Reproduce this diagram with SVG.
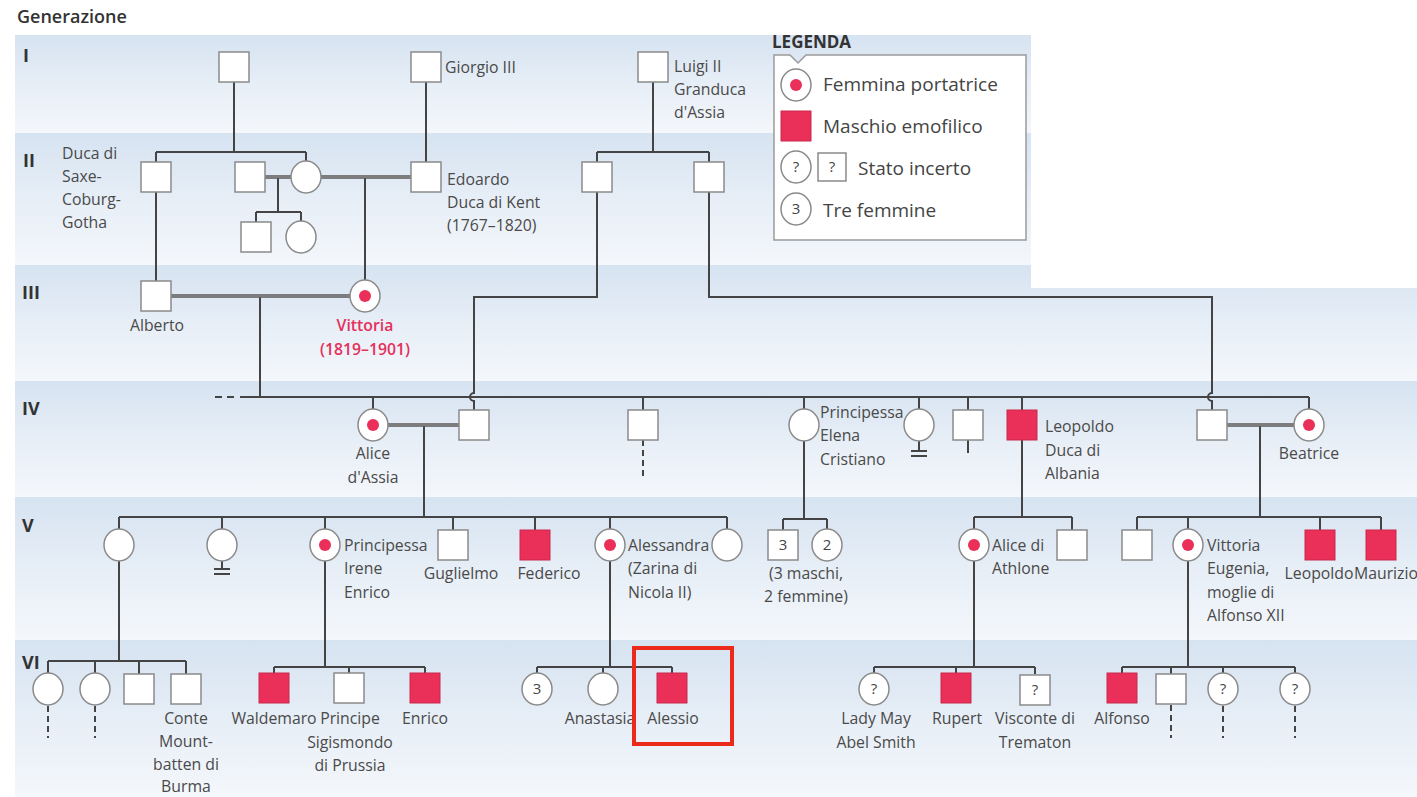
<svg xmlns="http://www.w3.org/2000/svg" xmlns:xlink="http://www.w3.org/1999/xlink" width="1417" height="797" viewBox="0 0 1417 797">
  <style>
    .lb { font-family: "Open Sans", "Liberation Sans", sans-serif; font-size: 15.8px; fill: #4a4a4a; }
    .mid { text-anchor: middle; }
    .red { fill: #e6305c; font-weight: 600; }
    .gen { font-family: "Open Sans", "Liberation Sans", sans-serif; font-size: 18px; font-weight: 700; fill: #333; }
    .lg { font-family: "Open Sans", "Liberation Sans", sans-serif; font-size: 19px; fill: #444; }
    .sym { font-family: "Open Sans", "Liberation Sans", sans-serif; font-size: 15px; fill: #444; text-anchor: middle; }
    .ln { fill: none; stroke: #444; stroke-width: 2; }
    .dash { fill: none; stroke: #444; stroke-width: 2; stroke-dasharray: 6 4; }
    .mar { fill: none; stroke: #5a5a5a; stroke-width: 3.6; }
    .mar-in { fill: none; stroke: #a0a0a0; stroke-width: 1; }
    .m { fill: #fff; stroke: #8a8a8a; stroke-width: 1.5; }
    .aff { fill: #ea2f58; stroke: #c92a4c; stroke-width: 1; }
    .dot { fill: #ea2f58; }
  </style>
  <defs>
    <linearGradient id="band" x1="0" y1="0" x2="0" y2="1">
      <stop offset="0" stop-color="#d6e3f1"/>
      <stop offset="0.45" stop-color="#e5edf6"/>
      <stop offset="1" stop-color="#f4f7fb"/>
    </linearGradient>
    <rect id="sq" x="-15" y="-15" width="30" height="30"/>
    <ellipse id="ci" cx="0" cy="0" rx="15" ry="16"/>
  </defs>

  <rect width="1417" height="797" fill="#fff"/>

  <!-- generation bands -->
  <g id="bands">
    <rect x="15" y="35" width="1016" height="98" fill="url(#band)"/>
    <rect x="15" y="133" width="1016" height="132" fill="url(#band)"/>
    <rect x="15" y="265" width="1402" height="116" fill="url(#band)"/>
    <rect x="1031" y="0" width="386" height="288" fill="#fff"/>
    <rect x="15" y="381" width="1402" height="116" fill="url(#band)"/>
    <rect x="15" y="497" width="1402" height="143" fill="url(#band)"/>
    <rect x="15" y="640" width="1402" height="157" fill="url(#band)"/>
  </g>

  <text class="gen" x="17" y="23" style="font-weight:600">Generazione</text>
  <g id="gen-numbers">
    <text class="gen" x="23" y="62">I</text>
    <text class="gen" x="23" y="167">II</text>
    <text class="gen" x="22" y="299">III</text>
    <text class="gen" x="22" y="415">IV</text>
    <text class="gen" x="22" y="532">V</text>
    <text class="gen" x="22" y="669">VI</text>
  </g>

  <!-- connectors -->
  <g id="connectors">
    <path class="ln" d="M234,82 V152 M156,152 H306 M156,152 V162 M306,152 V161"/>
    <path class="ln" d="M426,82 V162"/>
    <path class="ln" d="M653,82 V152 M597,152 H709 M597,152 V162 M709,152 V162"/>
    <path class="ln" d="M278,177 V212 M256,212 H301 M256,212 V222 M301,212 V221"/>
    <path class="ln" d="M365,177 V280"/>
    <path class="ln" d="M156,192 V281"/>
    <path class="ln" d="M597,192 V297 H474 V393 a4,4 0 0 0 0,8 V410"/>
    <path class="ln" d="M709,192 V297 H1212 V393 a4,4 0 0 0 0,8 V410"/>
    <path class="ln" d="M260,296 V397"/>
    <path class="ln" d="M215,397 H222 M227,397 H234 M240,397 H1309"/>
    <path class="ln" d="M373,397 V409 M643,397 V410 M804,397 V409 M919,397 V409 M968,397 V410 M1022,397 V410 M1309,397 V409"/>
    <path class="dash" d="M643,440 V478"/>
    <path class="ln" d="M919,441 V451 M911,451 H927 M911,456 H927"/>
    <path class="ln" d="M968,440 V453"/>
    <path class="ln" d="M424,425 V517 M119,517 H727 M119,517 V529 M222,517 V529 M325,517 V529 M453,517 V530 M535,517 V530 M610,517 V529 M727,517 V529"/>
    <path class="ln" d="M804,441 V519 M783,519 H827 M783,519 V530 M827,519 V529"/>
    <path class="ln" d="M1022,440 V517 M974,517 H1072 M974,517 V529 M1072,517 V530"/>
    <path class="ln" d="M1260,425 V517 M1137,517 H1381 M1137,517 V530 M1188,517 V529 M1320,517 V530 M1381,517 V530"/>
    <path class="ln" d="M222,561 V569 M214,569 H230 M214,574 H230"/>
    <path class="ln" d="M119,561 V661 M48,661 H186 M48,661 V673 M95,661 V673 M139,661 V674 M186,661 V674"/>
    <path class="ln" d="M325,561 V667 M274,667 H425 M274,667 V674 M349,667 V674 M425,667 V674"/>
    <path class="ln" d="M610,561 V667 M537,667 H672 M537,667 V673 M603,667 V673 M672,667 V674"/>
    <path class="ln" d="M974,561 V667 M874,667 H1035 M874,667 V673 M956,667 V674 M1035,667 V674"/>
    <path class="ln" d="M1188,561 V667 M1122,667 H1295 M1122,667 V674 M1171,667 V674 M1223,667 V673 M1295,667 V673"/>
    <path class="dash" d="M48,706 V738 M95,706 V738 M1171,705 V738 M1223,706 V738 M1295,706 V738"/>
    <!-- marriage lines -->
    <path class="mar" d="M265,177 H291 M321,177 H411 M171,296 H350 M388,425 H459 M1227,425 H1294"/>
    <path class="mar-in" d="M265,177 H291 M321,177 H411 M171,296 H350 M388,425 H459 M1227,425 H1294"/>
  </g>

  <!-- generation I -->
  <g id="g1-a"><use href="#sq" class="m" x="234" y="67"/></g>
  <g id="giorgio"><use href="#sq" class="m" x="426" y="67"/><text class="lb" x="445" y="73">Giorgio III</text></g>
  <g id="luigi"><use href="#sq" class="m" x="653" y="67"/>
    <text class="lb" x="674" y="72">Luigi II</text><text class="lb" x="674" y="95">Granduca</text><text class="lb" x="674" y="118">d'Assia</text></g>

  <!-- generation II -->
  <g id="duca-saxe"><use href="#sq" class="m" x="156" y="177"/>
    <text class="lb" x="62" y="159">Duca di</text><text class="lb" x="62" y="182">Saxe-</text><text class="lb" x="62" y="205">Coburg-</text><text class="lb" x="62" y="228">Gotha</text></g>
  <g id="g2-b"><use href="#sq" class="m" x="250" y="177"/></g>
  <g id="g2-c"><use href="#ci" class="m" x="306" y="177"/></g>
  <g id="g2-d"><use href="#sq" class="m" x="256" y="237"/></g>
  <g id="g2-e"><use href="#ci" class="m" x="301" y="237"/></g>
  <g id="edoardo"><use href="#sq" class="m" x="426" y="177"/>
    <text class="lb" x="447" y="185">Edoardo</text><text class="lb" x="447" y="208">Duca di Kent</text><text class="lb" x="447" y="231">(1767–1820)</text></g>
  <g id="g2-f"><use href="#sq" class="m" x="597" y="177"/></g>
  <g id="g2-g"><use href="#sq" class="m" x="709" y="177"/></g>

  <!-- generation III -->
  <g id="alberto"><use href="#sq" class="m" x="156" y="296"/><text class="lb mid" x="157" y="331">Alberto</text></g>
  <g id="vittoria"><use href="#ci" class="m" x="365" y="296"/><circle class="dot" cx="365" cy="296" r="6"/>
    <text class="lb mid red" x="365" y="331">Vittoria</text><text class="lb mid red" x="365" y="355">(1819–1901)</text></g>

  <!-- generation IV -->
  <g id="alice-assia"><use href="#ci" class="m" x="373" y="425"/><circle class="dot" cx="373" cy="425" r="6"/>
    <text class="lb mid" x="373" y="459">Alice</text><text class="lb mid" x="373" y="483">d'Assia</text></g>
  <g id="g4-husband-alice"><use href="#sq" class="m" x="474" y="425"/></g>
  <g id="g4-c"><use href="#sq" class="m" x="643" y="425"/></g>
  <g id="elena"><use href="#ci" class="m" x="804" y="425"/>
    <text class="lb" x="820" y="418">Principessa</text><text class="lb" x="820" y="441">Elena</text><text class="lb" x="820" y="465">Cristiano</text></g>
  <g id="g4-e"><use href="#ci" class="m" x="919" y="425"/></g>
  <g id="g4-f"><use href="#sq" class="m" x="968" y="425"/></g>
  <g id="leopoldo-albania"><use href="#sq" class="aff" x="1022" y="425"/>
    <text class="lb" x="1045" y="432">Leopoldo</text><text class="lb" x="1045" y="456">Duca di</text><text class="lb" x="1045" y="479">Albania</text></g>
  <g id="g4-husband-beatrice"><use href="#sq" class="m" x="1212" y="425"/></g>
  <g id="beatrice"><use href="#ci" class="m" x="1309" y="425"/><circle class="dot" cx="1309" cy="425" r="6"/>
    <text class="lb mid" x="1309" y="459">Beatrice</text></g>

  <!-- generation V -->
  <g id="g5-a"><use href="#ci" class="m" x="119" y="545"/></g>
  <g id="g5-b"><use href="#ci" class="m" x="222" y="545"/></g>
  <g id="irene"><use href="#ci" class="m" x="325" y="545"/><circle class="dot" cx="325" cy="545" r="6"/>
    <text class="lb" x="344" y="551">Principessa</text><text class="lb" x="344" y="574">Irene</text><text class="lb" x="344" y="598">Enrico</text></g>
  <g id="guglielmo"><use href="#sq" class="m" x="453" y="545"/><text class="lb mid" x="461" y="579">Guglielmo</text></g>
  <g id="federico"><use href="#sq" class="aff" x="535" y="545"/><text class="lb mid" x="549" y="579">Federico</text></g>
  <g id="alessandra"><use href="#ci" class="m" x="610" y="545"/><circle class="dot" cx="610" cy="545" r="6"/>
    <text class="lb" x="628" y="551">Alessandra</text><text class="lb" x="628" y="574">(Zarina di</text><text class="lb" x="628" y="598">Nicola II)</text></g>
  <g id="g5-g"><use href="#ci" class="m" x="727" y="545"/></g>
  <g id="elena-children"><use href="#sq" class="m" x="783" y="545"/><text class="sym" x="783" y="550">3</text>
    <use href="#ci" class="m" x="827" y="545"/><text class="sym" x="827" y="550">2</text>
    <text class="lb mid" x="806" y="579">(3 maschi,</text><text class="lb mid" x="806" y="602">2 femmine)</text></g>
  <g id="alice-athlone"><use href="#ci" class="m" x="974" y="545"/><circle class="dot" cx="974" cy="545" r="6"/>
    <text class="lb" x="992" y="551">Alice di</text><text class="lb" x="992" y="574">Athlone</text></g>
  <g id="g5-k"><use href="#sq" class="m" x="1072" y="545"/></g>
  <g id="g5-l"><use href="#sq" class="m" x="1137" y="545"/></g>
  <g id="vittoria-eugenia"><use href="#ci" class="m" x="1188" y="545"/><circle class="dot" cx="1188" cy="545" r="6"/>
    <text class="lb" x="1207" y="551">Vittoria</text><text class="lb" x="1207" y="574">Eugenia,</text><text class="lb" x="1207" y="598">moglie di</text><text class="lb" x="1207" y="621">Alfonso XII</text></g>
  <g id="leopoldo"><use href="#sq" class="aff" x="1320" y="545"/><text class="lb mid" x="1319" y="579">Leopoldo</text></g>
  <g id="maurizio"><use href="#sq" class="aff" x="1381" y="545"/><text class="lb mid" x="1386" y="579">Maurizio</text></g>

  <!-- generation VI -->
  <g id="g6-a"><use href="#ci" class="m" x="48" y="689"/></g>
  <g id="g6-b"><use href="#ci" class="m" x="95" y="689"/></g>
  <g id="g6-c"><use href="#sq" class="m" x="139" y="689"/></g>
  <g id="mountbatten"><use href="#sq" class="m" x="186" y="689"/>
    <text class="lb mid" x="186" y="724">Conte</text><text class="lb mid" x="186" y="747">Mount-</text><text class="lb mid" x="186" y="770">batten di</text><text class="lb mid" x="186" y="792">Burma</text></g>
  <g id="waldemaro"><use href="#sq" class="aff" x="274" y="688"/><text class="lb mid" x="274" y="724">Waldemaro</text></g>
  <g id="sigismondo"><use href="#sq" class="m" x="349" y="688"/>
    <text class="lb mid" x="350" y="724">Principe</text><text class="lb mid" x="350" y="748">Sigismondo</text><text class="lb mid" x="350" y="771">di Prussia</text></g>
  <g id="enrico"><use href="#sq" class="aff" x="425" y="688"/><text class="lb mid" x="425" y="724">Enrico</text></g>
  <g id="g6-three"><use href="#ci" class="m" x="537" y="689"/><text class="sym" x="537" y="694">3</text></g>
  <g id="anastasia"><use href="#ci" class="m" x="603" y="689"/><text class="lb mid" x="600" y="724">Anastasia</text></g>
  <g id="alessio"><use href="#sq" class="aff" x="672" y="688"/><text class="lb mid" x="673" y="724">Alessio</text></g>
  <rect id="alessio-highlight" x="634" y="648" width="98" height="96" fill="none" stroke="#ec2a1c" stroke-width="4"/>
  <g id="lady-may"><use href="#ci" class="m" x="874" y="689"/><text class="sym" x="874" y="694">?</text>
    <text class="lb mid" x="876" y="724">Lady May</text><text class="lb mid" x="876" y="748">Abel Smith</text></g>
  <g id="rupert"><use href="#sq" class="aff" x="956" y="688"/><text class="lb mid" x="957" y="724">Rupert</text></g>
  <g id="trematon"><use href="#sq" class="m" x="1035" y="690"/><text class="sym" x="1035" y="695">?</text>
    <text class="lb mid" x="1035" y="724">Visconte di</text><text class="lb mid" x="1035" y="748">Trematon</text></g>
  <g id="alfonso"><use href="#sq" class="aff" x="1122" y="688"/><text class="lb mid" x="1122" y="724">Alfonso</text></g>
  <g id="g6-q"><use href="#sq" class="m" x="1171" y="689"/></g>
  <g id="g6-r"><use href="#ci" class="m" x="1223" y="689"/><text class="sym" x="1223" y="694">?</text></g>
  <g id="g6-s"><use href="#ci" class="m" x="1295" y="689"/><text class="sym" x="1295" y="694">?</text></g>

  <!-- legend -->
  <g id="legend">
    <text class="gen" x="772" y="48" style="font-size:17px">LEGENDA</text>
    <path d="M774,55 H790 L798,63 L806,55 H1026 V240 H774 Z" fill="#fff" stroke="#9a9a9a" stroke-width="1.5"/>
    <use href="#ci" class="m" x="796" y="85"/><circle class="dot" cx="796" cy="85" r="6"/>
    <text class="lg" x="823" y="91">Femmina portatrice</text>
    <rect class="aff" x="781" y="111" width="30" height="30"/>
    <text class="lg" x="823" y="133">Maschio emofilico</text>
    <use href="#ci" class="m" x="796" y="167"/><text class="sym" x="796" y="172">?</text>
    <rect class="m" x="818" y="153" width="28" height="28"/><text class="sym" x="832" y="172">?</text>
    <text class="lg" x="858" y="175">Stato incerto</text>
    <use href="#ci" class="m" x="796" y="209"/><text class="sym" x="796" y="214">3</text>
    <text class="lg" x="823" y="217">Tre femmine</text>
  </g>
</svg>
